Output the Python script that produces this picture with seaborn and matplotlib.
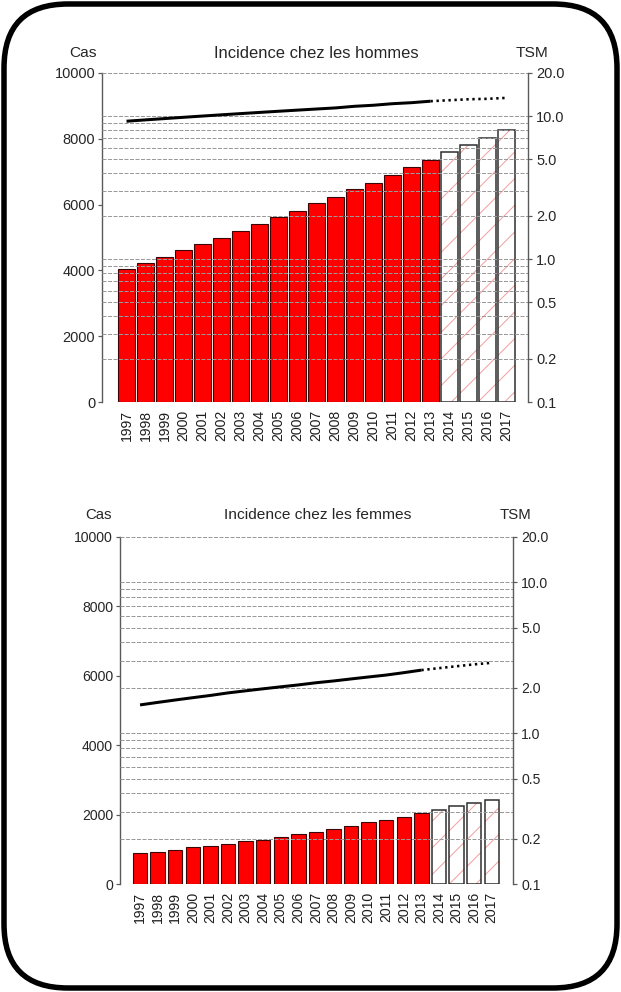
import numpy as np
import matplotlib
matplotlib.use("Agg")
import matplotlib.pyplot as plt
from matplotlib.patches import FancyBboxPatch
from matplotlib.ticker import FixedLocator, FixedFormatter, NullFormatter
import seaborn as sns

# ---- data -------------------------------------------------------------
years = [str(y) for y in range(1997, 2018)]
last_observed = 2013

men_cases = [4030, 4220, 4420, 4610, 4800, 4980, 5210, 5410, 5630, 5810, 6040,
             6230, 6460, 6670, 6900, 7130, 7360, 7590, 7810, 8030, 8270]
women_cases = [900, 930, 980, 1060, 1100, 1160, 1230, 1270, 1350, 1440, 1510,
               1580, 1660, 1780, 1850, 1920, 2050, 2130, 2250, 2330, 2420]

men_tsm = [9.2, 9.4, 9.6, 9.8, 10.0, 10.2, 10.4, 10.6, 10.8, 11.0, 11.2,
           11.4, 11.7, 11.9, 12.2, 12.4, 12.7, 12.9, 13.1, 13.2, 13.4]
women_tsm = [1.54, 1.60, 1.66, 1.72, 1.78, 1.85, 1.91, 1.97, 2.03, 2.09, 2.16,
             2.22, 2.29, 2.36, 2.43, 2.52, 2.62, 2.70, 2.78, 2.86, 2.93]

case_ticks = [0, 2000, 4000, 6000, 8000, 10000]
tsm_ticks = [0.1, 0.2, 0.5, 1, 2, 5, 10, 20]
tsm_labels = ["0.1", "0.2", "0.5", "1.0", "2.0", "5.0", "10.0", "20.0"]
tsm_minor = [0.3, 0.4, 0.6, 0.7, 0.8, 0.9, 3, 4, 6, 7, 8, 9]

# ---- style ------------------------------------------------------------
W, H, DPI = 621, 992, 160


def px(v):
    """pixels -> points at the output resolution"""
    return v * 72.0 / DPI


sns.set_style("white")
plt.rcParams["font.family"] = ["Liberation Sans", "DejaVu Sans"]
plt.rcParams["hatch.linewidth"] = px(1.0)

RED = "#ff0000"
BAR_EDGE = "#3a0606"
OUTLINE = "#2a2a2a"
HATCH = "#f3a0a0"
AXIS = "#5a5a5a"
TEXT = "#262626"
GRID = "#9a9a9a"

fig = plt.figure(figsize=(W / DPI, H / DPI), dpi=DPI, facecolor="white")

# rounded frame around the whole figure
bg = fig.add_axes([0, 0, 1, 1], zorder=-10)
bg.set_xlim(0, W)
bg.set_ylim(H, 0)
bg.axis("off")
bg.add_patch(FancyBboxPatch((4, 4), W - 8, H - 8,
                            boxstyle="round,pad=0,rounding_size=64",
                            lw=px(5.5), ec="black", fc="white"))


def fx(x):
    return x / W


def fy(y):
    return 1 - y / H


def panel(box, xlim, cases, tsm, title, head_y, cas_x, tsm_x, fs, bar_w):
    l, t, r, b = box
    ax = fig.add_axes([fx(l), fy(b), (r - l) / W, (b - t) / H])
    ax.set_facecolor("none")

    projected = np.array([int(y) > last_observed for y in years])

    sns.barplot(x=years, y=cases, order=years, color=RED, saturation=1,
                width=bar_w, edgecolor=BAR_EDGE, linewidth=px(1.1),
                ax=ax, zorder=2)
    for patch, proj in zip(ax.patches, projected):
        if proj:
            patch.set_facecolor("white")
            patch.set_edgecolor(HATCH)
            patch.set_linewidth(0)
            patch.set_hatch("//")
    proj_years = [y for y, p in zip(years, projected) if p]
    proj_cases = [c for c, p in zip(cases, projected) if p]
    sns.barplot(x=proj_years, y=proj_cases, order=years, fill=False,
                color=OUTLINE, width=bar_w, linewidth=px(1.5), ax=ax, zorder=3)

    ax.set_ylim(0, 10000)
    ax.set_yticks(case_ticks)
    ax.set_yticklabels([str(v) for v in case_ticks])
    ax.set_xlabel("")
    ax.set_ylabel("")
    for s in ("top", "right", "bottom"):
        ax.spines[s].set_visible(False)
    ax.spines["left"].set_color(AXIS)
    ax.spines["left"].set_linewidth(px(1.4))
    ax.tick_params(axis="y", length=px(4), width=px(1.2), color=AXIS,
                   labelsize=px(fs["tick"]), labelcolor=TEXT, pad=px(3))
    ax.tick_params(axis="x", length=0, labelrotation=90,
                   labelsize=px(fs["year"]), labelcolor="#1e1e1e", pad=px(8))

    # standardised rate on a log axis
    ax2 = ax.twinx()
    ax2.set_yscale("log")
    pos = np.arange(len(years))
    rate = np.array(tsm)
    obs = ~projected
    first_proj = int(np.argmax(projected)) - 1
    sns.lineplot(x=pos[obs], y=rate[obs], ax=ax2, color="black",
                 linewidth=px(3.0), solid_capstyle="butt")
    sns.lineplot(x=pos[first_proj:], y=rate[first_proj:], ax=ax2,
                 color="black", linewidth=px(2.6),
                 linestyle=(0, (0.9, 1.4)))
    ax2.set_ylim(0.1, 20)
    ax2.yaxis.set_major_locator(FixedLocator(tsm_ticks))
    ax2.yaxis.set_major_formatter(FixedFormatter(tsm_labels))
    ax2.yaxis.set_minor_locator(FixedLocator(tsm_minor))
    ax2.yaxis.set_minor_formatter(NullFormatter())
    ax2.yaxis.grid(True, which="both", color=GRID, lw=px(1.0),
                   linestyle=(0, (4, 1.5)))
    ax2.tick_params(axis="y", which="major", length=px(4), width=px(1.2),
                    color=AXIS, labelsize=px(fs["tick"]), labelcolor=TEXT,
                    pad=px(4))
    ax2.tick_params(axis="y", which="minor", length=0)
    ax2.set_ylabel("")
    ax2.set_xlabel("")
    for s in ("top", "left", "bottom"):
        ax2.spines[s].set_visible(False)
    ax2.spines["right"].set_color(AXIS)
    ax2.spines["right"].set_linewidth(px(1.4))

    ax.set_xlim(*xlim)

    fig.text(fx(cas_x), fy(head_y), "Cas", ha="center", va="center",
             fontsize=px(fs["head"]), color=TEXT)
    fig.text(fx((l + r) / 2 + 1), fy(head_y), title, ha="center",
             va="center", fontsize=px(fs["title"]), color=TEXT)
    fig.text(fx(tsm_x), fy(head_y), "TSM", ha="center", va="center",
             fontsize=px(fs["head"]), color=TEXT)


panel((102, 73, 528, 402), (-1.29, 21.13), men_cases, men_tsm,
      "Incidence chez les hommes", 53, 83, 532,
      {"tick": 14.5, "year": 14, "head": 15.5, "title": 16.5}, 0.88)
panel((120, 537, 513, 884), (-1.14, 21.21), women_cases, women_tsm,
      "Incidence chez les femmes", 515, 98, 515,
      {"tick": 14, "year": 14, "head": 15, "title": 15.5}, 0.82)

fig.savefig("out.png", dpi=DPI, facecolor="white")
